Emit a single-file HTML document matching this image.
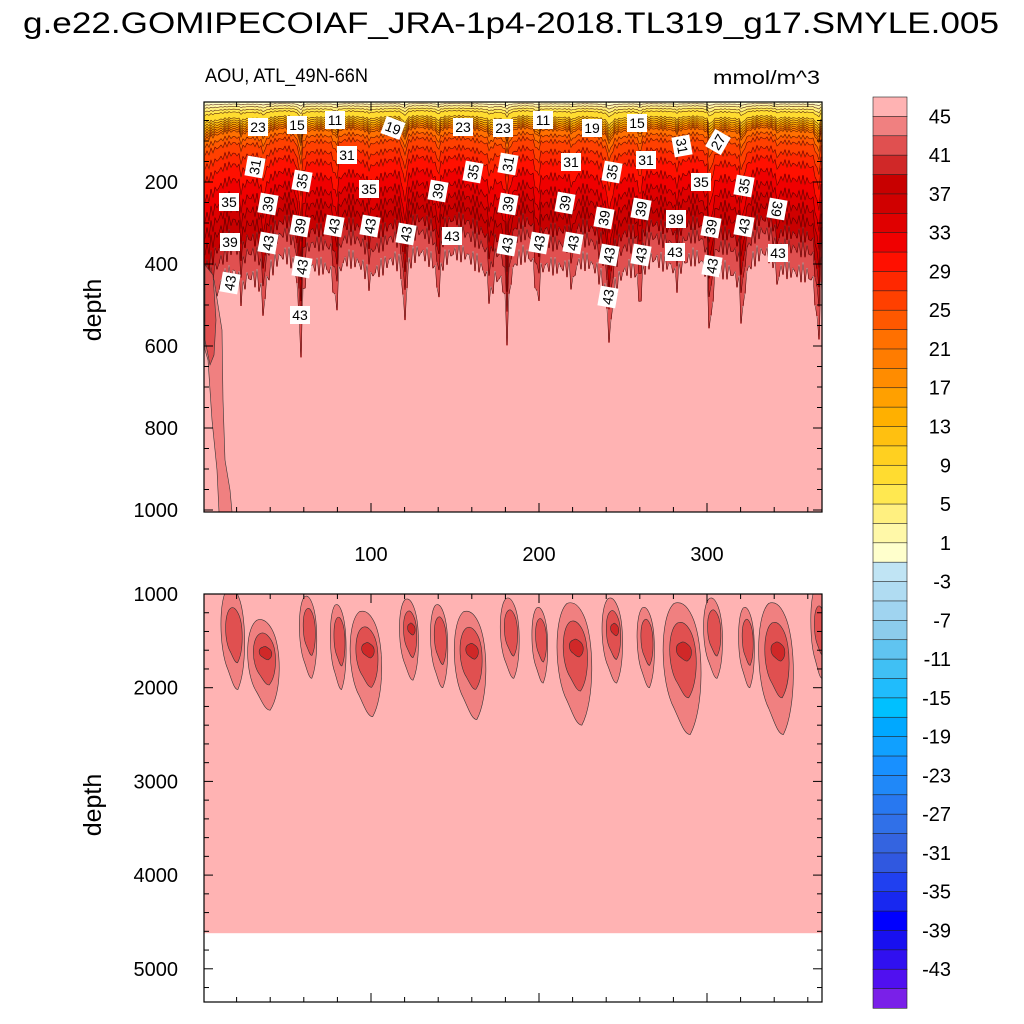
<!DOCTYPE html>
<html><head><meta charset="utf-8">
<style>
body{margin:0;background:#fff;width:1024px;height:1024px;overflow:hidden;position:relative;font-family:"Liberation Sans",sans-serif}
svg{position:absolute;left:0;top:0}
text{font-family:"Liberation Sans",sans-serif}
</style></head><body>
<svg id="chart-svg" width="1024" height="1024"></svg>
<script>
var aouLevelValues = [0, 1, 5, 9, 11, 15, 19, 23, 27, 31, 35, 39, 43, 45, 47];
var aouLevelDepths = [0, 4, 15, 28, 42, 52, 62, 72, 100, 150, 220, 280, 345, 400, 500];
var aouMixDays = [0,20,40,60,80,100,120,140,160,180,200,220,240,260,280,300,320,340,360,380];
var aouMixFactor = [1.3,1.05,1.0,0.95,1.0,1.0,0.95,0.9,1.0,1.0,0.95,1.0,1.05,1.0,0.95,1.0,1.0,0.95,1.05,1.1];
var aouSpikeDays = [23,36,58,79,99,120,140,171,181,199,220,242,260,282,302,321,342,366];
var aouSpikeDepths = [480,500,610,520,430,560,460,470,560,500,460,570,520,430,580,530,440,600];
var aouBlobDays = [17,35,62,80,96,122,140,158,182,200,220,243,263,284,303,323,340,366];
var aouBlobTop = [1000,1280,1030,1120,1190,1060,1120,1190,1050,1150,1100,1050,1150,1100,1050,1150,1100,1000];
var aouBlobBottom = [2020,2240,1900,2020,2310,1920,2000,2340,1900,1950,2400,1950,2000,2500,1900,2000,2500,1900];
var aouBlobWidth = [7.5,10,5.5,5,10,6,5.5,10,6,5,11,6.5,5.5,12,6,5,11,5];
var aouBlobLevels = [2,3,2,2,3,3,2,3,2,2,3,3,2,3,2,2,3,2];
var aouCbColors = ["#FFB3B3","#F08080","#E05050","#D02828","#C80000","#D00000","#E00000","#F00000","#FF1000","#FF2800","#FF4000","#FF5800","#FF7000","#FF7C00","#FF8C00","#FFA000","#FFB000","#FFC010","#FFD020","#FFDC30","#FFE850","#FFF080","#FFF8A8","#FFFFCC","#C0E4F4","#B0DCF2","#A0D4F0","#8CCCEC","#60C4F0","#40C0F4","#20BCFC","#00C0FF","#00A8FF","#10A0FF","#1890FF","#2088F8","#2878F0","#3070E8","#3464E0","#3058E0","#2040F0","#1828F0","#0000FF","#1810F0","#3010F0","#5010F0","#7A20E8"];
var aouCbLabels = [45,41,37,33,29,25,21,17,13,9,5,1,-3,-7,-11,-15,-19,-23,-27,-31,-35,-39,-43];
var aouXTicks = [100,200,300];
var aouTopYTicks = [200,400,600,800,1000];
var aouBotYTicks = [1000,2000,3000,4000,5000];
var aouContourLabels = [[258,127,"23",0],[297,125,"15",0],[335,120,"11",0],[393,128,"19",20],[463,127,"23",0],[503,128,"23",0],[543,120,"11",0],[592,128,"19",0],[637,123,"15",0],[682,146,"31",80],[718,142,"27",-60],[255,167,"31",-80],[347,155,"31",0],[508,164,"31",-80],[571,162,"31",0],[646,160,"31",0],[302,181,"35",-80],[369,189,"35",0],[473,172,"35",-80],[612,172,"35",-80],[701,182,"35",0],[744,186,"35",-80],[229,202,"35",0],[268,204,"39",-80],[438,191,"39",-80],[508,204,"39",-80],[565,203,"39",-80],[641,209,"39",-80],[676,219,"39",0],[777,209,"39",100],[230,242,"39",0],[300,226,"39",-80],[334,226,"43",-80],[370,226,"43",-80],[406,234,"43",-80],[452,236,"43",0],[268,243,"43",-80],[507,245,"43",-80],[539,243,"43",-80],[573,243,"43",-80],[604,218,"39",-80],[609,255,"43",-80],[641,255,"43",-80],[675,252,"43",0],[711,227,"39",-80],[744,226,"43",-80],[778,253,"43",0],[712,266,"43",-80],[230,283,"43",-80],[302,267,"43",-80],[608,297,"43",-80],[300,315,"43",0]];

(function(){
var X0=204,X1=822,dayPx=1.68,day0=203;
function xs(d){return day0+d*dayPx;}
function topY(d){return 100+d*0.41;}
function botY(d){return 594+(d-1000)*0.0937;}
function interp(xa,ya,x){if(x<=xa[0])return ya[0];for(var i=1;i<xa.length;i++){if(x<=xa[i]){var t=(x-xa[i-1])/(xa[i]-xa[i-1]);return ya[i-1]+t*(ya[i]-ya[i-1]);}}return ya[ya.length-1];}
var SV=document.getElementById('chart-svg');var SNS='http://www.w3.org/2000/svg';
function mk(t,a,p){var n=document.createElementNS(SNS,t);for(var k in a)n.setAttribute(k,a[k]);(p||SV).appendChild(n);return n;}
function tx(x,y,s,size,anchor,p){var n=mk('text',{x:x,y:y,'font-size':size,'text-anchor':anchor||'middle',fill:'#000'},p);n.textContent=s;return n;}

function safe(f){try{f();}catch(err){}}

safe(function(){
  var g=mk('g',{});
  
  
  var step=2;
  var bvals=[1,3,5,7,9,11,13,15,17,19,21,23,25,27,29,31,33,35,37,39,41,43,45];
  var lines={};
  function colMix(day){
    var m=interp(aouMixDays,aouMixFactor,day);
    for(var k=0;k<aouSpikeDays.length;k++){
      var sm=aouSpikeDepths[k]/400, dd=day-aouSpikeDays[k];
      m+=(sm-m)*(0.75*Math.exp(-(dd/1.4)*(dd/1.4))+0.25*Math.exp(-(dd/5)*(dd/5)));
    }
    return m*(1+0.06*Math.sin(day*2.3)+0.04*Math.sin(day*5.1+1));
  }
  for(var px=X0;px<X1;px+=step){
    var day=(px+step/2-day0)/dayPx;
    var m=colMix(day);
    var prevY=102;
    for(var j=0;j<=bvals.length;j++){
      var y = j<bvals.length ? topY(interp(aouLevelValues,aouLevelDepths,bvals[j])*m) : 512;
      y=Math.min(Math.max(y,102),512);
      var idx = j<bvals.length ? Math.min(46,Math.floor((45-bvals[j])/2)+2) : 0;
      if(y>prevY){
        mk('rect',{x:px,y:prevY,width:step+0.6,height:y-prevY+0.4,fill:aouCbColors[idx]},g);
      }
      if(j<bvals.length){if(!lines[bvals[j]])lines[bvals[j]]=[];lines[bvals[j]].push((px+step/2)+','+y.toFixed(1));}
      prevY=Math.max(prevY,y);
    }
  }
  for(var v in lines){
    mk('polyline',{points:lines[v].join(' '),fill:'none',stroke:'#3a0000','stroke-width':0.6,'stroke-opacity':0.8},g);
  }
});

safe(function(){
  var t1=mk('path',{d:'M205 270 L214 280 L222 330 L223 400 L225 460 L230 490 L232 512 L219 512 L217 470 L212 420 L208 360 L205 350 Z',fill:'#F08080',stroke:'#333','stroke-width':0.6});
  
  var t2=mk('path',{d:'M205 265 L213 275 L216 320 L214 355 L210 365 L205 340 Z',fill:'#E05050',stroke:'#333','stroke-width':0.6});
  
});

safe(function(){
  var bg=mk('rect',{x:X0,y:594,width:X1-X0,height:botY(4620)-594,fill:'#FFB3B3'});
  
  var df=mk('defs',{});
  var cp=mk('clipPath',{id:'bclip'},df);mk('rect',{x:X0,y:594,width:X1-X0,height:408},cp);
  var bgs=mk('g',{'clip-path':'url(#bclip)'});
  var cols=['#F08080','#E05050','#D02828'];
  for(var k=0;k<aouBlobDays.length;k++){
    for(var l=0;l<aouBlobLevels[k];l++){
      var s=1-l*0.3;
      var span=aouBlobBottom[k]-aouBlobTop[k];
      var tp=aouBlobTop[k]+span*(l*0.15);
      var bt=aouBlobBottom[k]-span*(l*0.28);
      var cx=xs(aouBlobDays[k])*1+l*1.5,w=aouBlobWidth[k]*dayPx*s;
      var y0=(aouBlobTop[k]<=1000&&l===0)?588:botY(tp),y1=botY(bt);
      var h=y1-y0;
      var d='M'+(cx-w*0.3)+' '+y0+
        ' C'+(cx-w*1.05)+' '+(y0+h*0.1)+' '+(cx-w*1.0)+' '+(y0+h*0.6)+' '+(cx-w*0.3)+' '+(y0+h*0.8)+
        ' C'+(cx)+' '+(y0+h*0.9)+' '+(cx+w*0.2)+' '+y1+' '+(cx+w*0.5)+' '+y1+
        ' C'+(cx+w*1.2)+' '+(y1-h*0.2)+' '+(cx+w*1.2)+' '+(y0+h*0.3)+' '+(cx+w*0.6)+' '+(y0+h*0.1)+
        ' C'+(cx+w*0.3)+' '+y0+' '+(cx)+' '+(y0-2)+' '+(cx-w*0.3)+' '+y0+' Z';
      var p=mk('path',{d:d,fill:cols[l],stroke:'#333','stroke-width':0.6},bgs);
      
      
    }
  }
});

safe(function(){
  for(var i=0;i<aouContourLabels.length;i++){
    var c=aouContourLabels[i];
    var g=mk('g',{transform:'translate('+c[0]+','+c[1]+') rotate('+c[3]+')'});
    
    mk('rect',{x:-10,y:-9,width:20,height:18,fill:'#fff'},g);
    tx(0,5,c[2],14,'middle',g);
  }
});

safe(function(){
  function frame(y0,y1,name){
    var r=mk('rect',{x:X0,y:y0,width:X1-X0,height:y1-y0,fill:'none',stroke:'#000','stroke-width':1.2});
    
    for(var d=20;d<368;d+=20){var x=xs(d),L=d%100===0?9:5;
      mk('line',{x1:x,x2:x,y1:y0,y2:y0+L,stroke:'#000'});mk('line',{x1:x,x2:x,y1:y1,y2:y1-L,stroke:'#000'});}
  }
  frame(102,512,'top-panel-frame');frame(594,1002,'bottom-panel-frame');
  var d,y,L,n,i;
  for(d=50;d<=1000;d+=50){y=topY(d);L=d%200===0?9:5;
    mk('line',{x1:X0,x2:X0+L,y1:y,y2:y,stroke:'#000'});mk('line',{x1:X1,x2:X1-L,y1:y,y2:y,stroke:'#000'});}
  for(d=1000;d<=5300;d+=200){y=botY(d);L=d%1000===0?9:5;
    mk('line',{x1:X0,x2:X0+L,y1:y,y2:y,stroke:'#000'});mk('line',{x1:X1,x2:X1-L,y1:y,y2:y,stroke:'#000'});}
  for(i=0;i<aouXTicks.length;i++){n=tx(xs(aouXTicks[i]),561,String(aouXTicks[i]),20);}
  for(i=0;i<aouTopYTicks.length;i++){n=tx(178,topY(aouTopYTicks[i])+7,String(aouTopYTicks[i]),20,'end');}
  for(i=0;i<aouBotYTicks.length;i++){n=tx(178,botY(aouBotYTicks[i])+7,String(aouBotYTicks[i]),20,'end');}
  n=tx(101,310,'depth',25);n.setAttribute('transform','rotate(-90 101 310)');
  n=tx(101,805,'depth',25);n.setAttribute('transform','rotate(-90 101 805)');
  n=tx(511,33,'g.e22.GOMIPECOIAF_JRA-1p4-2018.TL319_g17.SMYLE.005',30);n.setAttribute('textLength','976');n.setAttribute('lengthAdjust','spacingAndGlyphs');
  n=tx(205,82,'AOU, ATL_49N-66N',19,'start');n.setAttribute('textLength','163');n.setAttribute('lengthAdjust','spacingAndGlyphs');
  n=tx(713,84,'mmol/m^3',19,'start');n.setAttribute('textLength','107');n.setAttribute('lengthAdjust','spacingAndGlyphs');
});

safe(function(){
  var cbTop=97,cbH=911/47,i,r,n;
  for(i=0;i<aouCbColors.length;i++){
    r=mk('rect',{x:873,y:cbTop+i*cbH,width:34,height:cbH+0.3,fill:aouCbColors[i],stroke:'#222','stroke-width':0.6});
    
  }
  for(i=0;i<aouCbLabels.length;i++){
    n=tx(951,cbTop+(2*i+1)*cbH+7,String(aouCbLabels[i]),20,'end');
    
  }
});
})();
</script>
</body></html>
